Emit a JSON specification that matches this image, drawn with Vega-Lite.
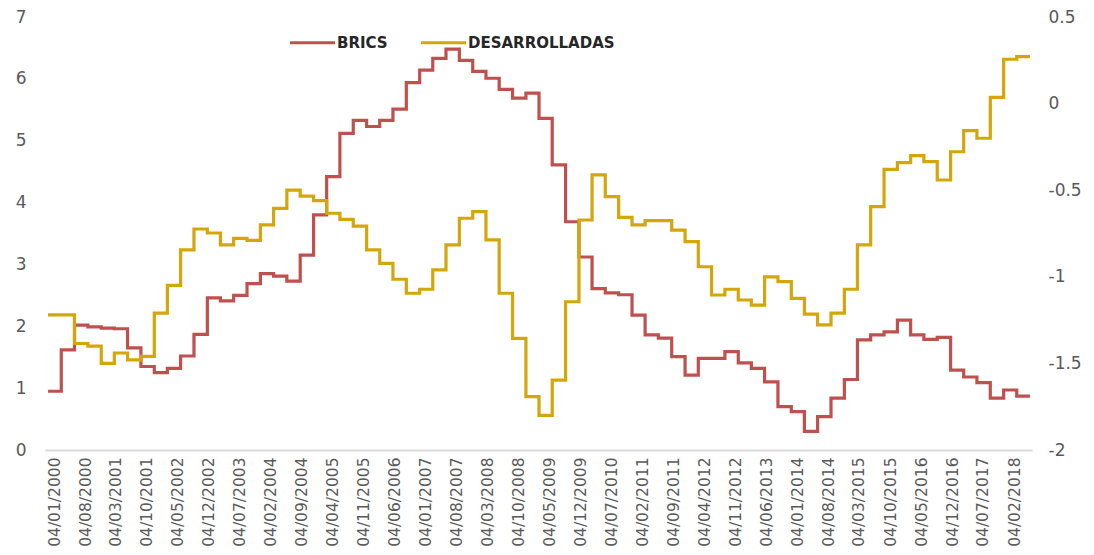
{
  "$schema": "https://vega.github.io/schema/vega-lite/v6.json",
  "width": 987,
  "height": 433,
  "autosize": {"type": "none"},
  "padding": {"left": 45, "top": 17, "right": 62, "bottom": 105},
  "background": "white",
  "config": {"view": {"stroke": null}, "font": "DejaVu Sans"},
  "data": {"values": [
    {"d": "2000-01-04", "brics": 0.95, "desa": -1.22},
    {"d": "2000-04-04", "brics": 1.62, "desa": -1.22},
    {"d": "2000-07-04", "brics": 2.02, "desa": -1.385},
    {"d": "2000-10-04", "brics": 1.99, "desa": -1.40},
    {"d": "2001-01-04", "brics": 1.97, "desa": -1.50},
    {"d": "2001-04-04", "brics": 1.96, "desa": -1.44},
    {"d": "2001-07-04", "brics": 1.65, "desa": -1.48},
    {"d": "2001-10-04", "brics": 1.35, "desa": -1.46},
    {"d": "2002-01-04", "brics": 1.25, "desa": -1.21},
    {"d": "2002-04-04", "brics": 1.32, "desa": -1.05},
    {"d": "2002-07-04", "brics": 1.52, "desa": -0.845},
    {"d": "2002-10-04", "brics": 1.87, "desa": -0.724},
    {"d": "2003-01-04", "brics": 2.46, "desa": -0.747},
    {"d": "2003-04-04", "brics": 2.41, "desa": -0.816},
    {"d": "2003-07-04", "brics": 2.50, "desa": -0.778},
    {"d": "2003-10-04", "brics": 2.69, "desa": -0.79},
    {"d": "2004-01-04", "brics": 2.85, "desa": -0.70},
    {"d": "2004-04-04", "brics": 2.81, "desa": -0.605},
    {"d": "2004-07-04", "brics": 2.73, "desa": -0.50},
    {"d": "2004-10-04", "brics": 3.15, "desa": -0.534},
    {"d": "2005-01-04", "brics": 3.80, "desa": -0.56},
    {"d": "2005-04-04", "brics": 4.42, "desa": -0.633},
    {"d": "2005-07-04", "brics": 5.12, "desa": -0.668},
    {"d": "2005-10-04", "brics": 5.33, "desa": -0.707},
    {"d": "2006-01-04", "brics": 5.23, "desa": -0.845},
    {"d": "2006-04-04", "brics": 5.33, "desa": -0.922},
    {"d": "2006-07-04", "brics": 5.51, "desa": -1.014},
    {"d": "2006-10-04", "brics": 5.94, "desa": -1.095},
    {"d": "2007-01-04", "brics": 6.14, "desa": -1.072},
    {"d": "2007-04-04", "brics": 6.33, "desa": -0.96},
    {"d": "2007-07-04", "brics": 6.48, "desa": -0.816},
    {"d": "2007-10-04", "brics": 6.30, "desa": -0.662},
    {"d": "2008-01-04", "brics": 6.12, "desa": -0.624},
    {"d": "2008-04-04", "brics": 6.01, "desa": -0.787},
    {"d": "2008-07-04", "brics": 5.83, "desa": -1.095},
    {"d": "2008-10-04", "brics": 5.69, "desa": -1.355},
    {"d": "2009-01-04", "brics": 5.77, "desa": -1.692},
    {"d": "2009-04-04", "brics": 5.36, "desa": -1.80},
    {"d": "2009-07-04", "brics": 4.61, "desa": -1.596},
    {"d": "2009-10-04", "brics": 3.69, "desa": -1.144},
    {"d": "2010-01-04", "brics": 3.12, "desa": -0.672},
    {"d": "2010-04-04", "brics": 2.61, "desa": -0.412},
    {"d": "2010-07-04", "brics": 2.54, "desa": -0.537},
    {"d": "2010-10-04", "brics": 2.51, "desa": -0.657},
    {"d": "2011-01-04", "brics": 2.18, "desa": -0.70},
    {"d": "2011-04-04", "brics": 1.86, "desa": -0.676},
    {"d": "2011-07-04", "brics": 1.81, "desa": -0.676},
    {"d": "2011-10-04", "brics": 1.51, "desa": -0.73},
    {"d": "2012-01-04", "brics": 1.21, "desa": -0.797},
    {"d": "2012-04-04", "brics": 1.48, "desa": -0.942},
    {"d": "2012-07-04", "brics": 1.48, "desa": -1.105},
    {"d": "2012-10-04", "brics": 1.59, "desa": -1.072},
    {"d": "2013-01-04", "brics": 1.41, "desa": -1.134},
    {"d": "2013-04-04", "brics": 1.32, "desa": -1.163},
    {"d": "2013-07-04", "brics": 1.10, "desa": -1.0},
    {"d": "2013-10-04", "brics": 0.70, "desa": -1.028},
    {"d": "2014-01-04", "brics": 0.62, "desa": -1.124},
    {"d": "2014-04-04", "brics": 0.30, "desa": -1.215},
    {"d": "2014-07-04", "brics": 0.54, "desa": -1.278},
    {"d": "2014-10-04", "brics": 0.84, "desa": -1.21},
    {"d": "2015-01-04", "brics": 1.14, "desa": -1.072},
    {"d": "2015-04-04", "brics": 1.78, "desa": -0.816},
    {"d": "2015-07-04", "brics": 1.86, "desa": -0.595},
    {"d": "2015-10-04", "brics": 1.91, "desa": -0.38},
    {"d": "2016-01-04", "brics": 2.10, "desa": -0.341},
    {"d": "2016-04-04", "brics": 1.86, "desa": -0.30},
    {"d": "2016-07-04", "brics": 1.79, "desa": -0.335},
    {"d": "2016-10-04", "brics": 1.82, "desa": -0.441},
    {"d": "2017-01-04", "brics": 1.29, "desa": -0.278},
    {"d": "2017-04-04", "brics": 1.18, "desa": -0.156},
    {"d": "2017-07-04", "brics": 1.09, "desa": -0.20},
    {"d": "2017-10-04", "brics": 0.84, "desa": 0.036},
    {"d": "2018-01-04", "brics": 0.97, "desa": 0.256},
    {"d": "2018-04-04", "brics": 0.87, "desa": 0.271},
    {"d": "2018-07-04", "brics": 0.87, "desa": 0.271}
  ]},
  "encoding": {
    "x": {
      "field": "d",
      "type": "temporal",
      "scale": {
        "type": "utc",
        "domain": [
          {"year": 1999, "month": 12, "date": 14, "utc": true},
          {"year": 2018, "month": 7, "date": 18, "utc": true}
        ]
      },
      "axis": {
        "title": null,
        "format": "%d/%m/%Y",
        "values": [
          {"year": 2000, "month": 1, "date": 4, "utc": true},
          {"year": 2000, "month": 8, "date": 4, "utc": true},
          {"year": 2001, "month": 3, "date": 4, "utc": true},
          {"year": 2001, "month": 10, "date": 4, "utc": true},
          {"year": 2002, "month": 5, "date": 4, "utc": true},
          {"year": 2002, "month": 12, "date": 4, "utc": true},
          {"year": 2003, "month": 7, "date": 4, "utc": true},
          {"year": 2004, "month": 2, "date": 4, "utc": true},
          {"year": 2004, "month": 9, "date": 4, "utc": true},
          {"year": 2005, "month": 4, "date": 4, "utc": true},
          {"year": 2005, "month": 11, "date": 4, "utc": true},
          {"year": 2006, "month": 6, "date": 4, "utc": true},
          {"year": 2007, "month": 1, "date": 4, "utc": true},
          {"year": 2007, "month": 8, "date": 4, "utc": true},
          {"year": 2008, "month": 3, "date": 4, "utc": true},
          {"year": 2008, "month": 10, "date": 4, "utc": true},
          {"year": 2009, "month": 5, "date": 4, "utc": true},
          {"year": 2009, "month": 12, "date": 4, "utc": true},
          {"year": 2010, "month": 7, "date": 4, "utc": true},
          {"year": 2011, "month": 2, "date": 4, "utc": true},
          {"year": 2011, "month": 9, "date": 4, "utc": true},
          {"year": 2012, "month": 4, "date": 4, "utc": true},
          {"year": 2012, "month": 11, "date": 4, "utc": true},
          {"year": 2013, "month": 6, "date": 4, "utc": true},
          {"year": 2014, "month": 1, "date": 4, "utc": true},
          {"year": 2014, "month": 8, "date": 4, "utc": true},
          {"year": 2015, "month": 3, "date": 4, "utc": true},
          {"year": 2015, "month": 10, "date": 4, "utc": true},
          {"year": 2016, "month": 5, "date": 4, "utc": true},
          {"year": 2016, "month": 12, "date": 4, "utc": true},
          {"year": 2017, "month": 7, "date": 4, "utc": true},
          {"year": 2018, "month": 2, "date": 4, "utc": true}
        ],
        "labelAngle": -90,
        "labelAlign": "right",
        "labelBaseline": "middle",
        "labelPadding": 7,
        "labelOffset": 6,
        "labelFontSize": 15.5,
        "labelColor": "#595959",
        "labelOverlap": false,
        "labelFlush": false,
        "ticks": false,
        "grid": false,
        "domain": true,
        "domainColor": "#d9d9d9",
        "domainWidth": 2
      }
    }
  },
  "layer": [
    {
      "mark": {"type": "line", "interpolate": "step-after", "strokeWidth": 3.2},
      "encoding": {
        "y": {
          "field": "brics",
          "type": "quantitative",
          "scale": {"domain": [0, 7], "nice": false, "zero": false},
          "axis": {
            "orient": "left",
            "title": null,
            "values": [0, 1, 2, 3, 4, 5, 6, 7],
            "labelFontSize": 17,
            "labelColor": "#595959",
            "labelPadding": 19,
            "ticks": false,
            "domain": false,
            "grid": false
          }
        },
        "color": {
          "datum": "BRICS",
          "type": "nominal",
          "scale": {"domain": ["BRICS", "DESARROLLADAS"], "range": ["#c0504d", "#d4a60a"]},
          "legend": {
            "title": null,
            "orient": "none",
            "legendX": 243,
            "legendY": 1,
            "direction": "horizontal",
            "symbolType": "stroke",
            "symbolSize": 2025,
            "symbolStrokeWidth": 3.2,
            "labelFont": "DejaVu Sans",
            "labelFontSize": 15,
            "labelFontWeight": "bold",
            "labelColor": "#262626",
            "labelOffset": 0,
            "columnPadding": 26,
            "padding": 0
          }
        }
      }
    },
    {
      "mark": {"type": "line", "interpolate": "step-after", "strokeWidth": 3.2},
      "encoding": {
        "y": {
          "field": "desa",
          "type": "quantitative",
          "scale": {"domain": [-2, 0.5], "nice": false, "zero": false},
          "axis": {
            "orient": "right",
            "title": null,
            "values": [-2, -1.5, -1, -0.5, 0, 0.5],
            "labelExpr": "'' + datum.value",
            "labelFontSize": 17,
            "labelColor": "#595959",
            "labelPadding": 16,
            "ticks": false,
            "domain": false,
            "grid": false
          }
        },
        "color": {"datum": "DESARROLLADAS", "type": "nominal"}
      }
    }
  ],
  "resolve": {"scale": {"y": "independent"}}
}
